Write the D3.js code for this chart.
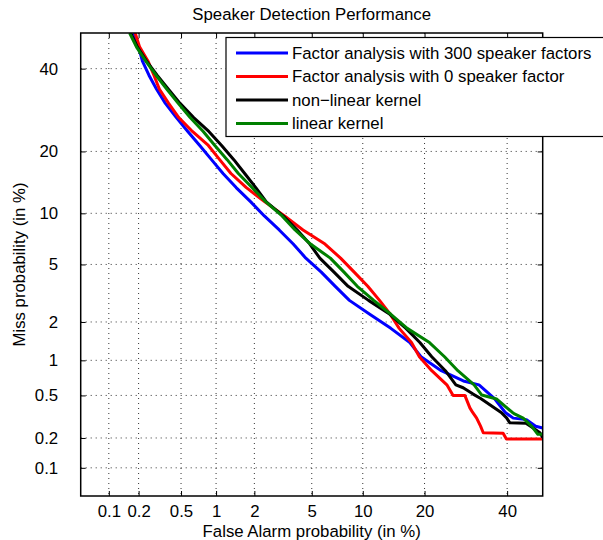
<!DOCTYPE html>
<html lang="en">
<head>
<meta charset="UTF-8">
<title>Speaker Detection Performance</title>
<script src="https://d3js.org/d3.v7.min.js"></script>
<style>
  body { margin: 0; background: #fff; }
  svg { display: block; }
  text { font-family: "Liberation Sans", Arial, Helvetica, sans-serif; fill: #000; }
</style>
</head>
<body>
<div class="main"></div>
<script>
  // tick values (in %), shared by both axes
  var tickValues = [0.1, 0.2, 0.5, 1, 2, 5, 10, 20, 40];

  var seriesNames = ["Factor analysis with 300 speaker factors", "Factor analysis with 0 speaker factor", "non\u2212linear kernel", "linear kernel"];
  var seriesColors = ["#0000ff", "#ff0000", "#000000", "#008000"];

  // false alarm / miss probabilities in %
  var fa300Pfa  = [0.18, 0.20, 0.218, 0.252, 0.298, 0.36, 0.454, 0.574, 0.729, 0.916, 1.14, 1.45, 1.88, 2.37, 3.03, 3.78, 4.58, 5.74, 6.98, 8.43, 10.9, 13.97, 17.2, 19.3, 23.5, 28.6, 32.5, 36.5, 39.5, 41.7, 45.4, 48.0, 50];
  var fa300Pmiss = [50, 46.0, 42.07, 38.2, 34.46, 30.85, 27.4, 24.2, 21.2, 18.4, 15.9, 13.6, 11.5, 9.68, 8.08, 6.68, 5.48, 4.46, 3.59, 2.87, 2.28, 1.79, 1.39, 1.07, 0.82, 0.67, 0.62, 0.47, 0.35, 0.31, 0.30, 0.26, 0.25];

  var fa0Pfa  = [0.185, 0.205, 0.247, 0.281, 0.317, 0.386, 0.477, 0.630, 0.862, 1.07, 1.32, 1.74, 2.39, 3.30, 4.39, 6.05, 7.50, 8.97, 10.64, 12.26, 13.87, 15.34, 17.5, 18.99, 21.47, 24.74, 26.17, 28.96, 29.26, 30.2, 30.9, 31.9, 32.9, 33.6, 38.9, 39.8, 50];
  var fa0Pmiss = [50, 46.0, 42.07, 38.2, 34.46, 30.85, 27.4, 24.2, 21.2, 18.4, 15.9, 13.6, 11.5, 9.68, 8.08, 6.68, 5.48, 4.46, 3.59, 2.87, 2.28, 1.79, 1.39, 1.07, 0.82, 0.62, 0.5, 0.5, 0.47, 0.386, 0.35, 0.31, 0.26, 0.225, 0.222, 0.195, 0.195];

  var nlkPfa  = [0.167, 0.195, 0.239, 0.301, 0.384, 0.490, 0.646, 0.870, 1.11, 1.39, 1.69, 2.05, 2.45, 3.22, 4.02, 4.86, 5.62, 6.86, 8.29, 10.74, 13.81, 16.50, 19.08, 21.47, 24.41, 26.81, 28.55, 31.0, 32.94, 38.37, 39.85, 40.75, 45.25, 47.2, 49.2, 50];
  var nlkPmiss = [50, 46.0, 42.07, 38.2, 34.46, 30.85, 27.4, 24.2, 21.2, 18.4, 15.9, 13.6, 11.5, 9.68, 8.08, 6.68, 5.48, 4.46, 3.59, 2.87, 2.28, 1.79, 1.39, 1.07, 0.82, 0.62, 0.585, 0.514, 0.47, 0.35, 0.312, 0.280, 0.278, 0.251, 0.225, 0.202];

  var lkPfa  = [0.163, 0.191, 0.235, 0.294, 0.372, 0.472, 0.602, 0.781, 0.977, 1.23, 1.51, 1.92, 2.43, 3.17, 3.89, 4.91, 6.52, 7.85, 9.33, 11.44, 13.98, 16.73, 21.0, 24.22, 27.28, 31.27, 33.22, 37.1, 41.46, 41.9, 44.48, 46.84, 48.62, 50];
  var lkPmiss = [50, 46.0, 42.07, 38.2, 34.46, 30.85, 27.4, 24.2, 21.2, 18.4, 15.9, 13.6, 11.5, 9.68, 8.08, 6.68, 5.48, 4.46, 3.59, 2.87, 2.28, 1.79, 1.39, 1.07, 0.82, 0.62, 0.504, 0.465, 0.35, 0.342, 0.31, 0.26, 0.217, 0.217];

  var seriesPfa = [fa300Pfa, fa0Pfa, nlkPfa, lkPfa];
  var seriesPmiss = [fa300Pmiss, fa0Pmiss, nlkPmiss, lkPmiss];

  // inverse normal cdf (Acklam)
  function probit(p) {
    var a = [-39.69683028665376, 220.9460984245205, -275.9285104469687, 138.3577518672690, -30.66479806614716, 2.506628277459239];
    var b = [-54.47609879822406, 161.5858368580409, -155.6989798598866, 66.80131188771972, -13.28068155288572];
    var c = [-0.007784894002430293, -0.3223964580411365, -2.400758277161838, -2.549732539343734, 4.374664141464968, 2.938163982698783];
    var d = [0.007784695709041462, 0.3224671290700398, 2.445134137142996, 3.754408661907416];
    var q, r;
    if (p < 0.02425) {
      q = Math.sqrt(-2 * Math.log(p));
      return (((((c[0]*q+c[1])*q+c[2])*q+c[3])*q+c[4])*q+c[5]) / ((((d[0]*q+d[1])*q+d[2])*q+d[3])*q+1);
    } else if (p <= 1 - 0.02425) {
      q = p - 0.5; r = q * q;
      return (((((a[0]*r+a[1])*r+a[2])*r+a[3])*r+a[4])*r+a[5])*q / (((((b[0]*r+b[1])*r+b[2])*r+b[3])*r+b[4])*r+1);
    }
    q = Math.sqrt(-2 * Math.log(1 - p));
    return -(((((c[0]*q+c[1])*q+c[2])*q+c[3])*q+c[4])*q+c[5]) / ((((d[0]*q+d[1])*q+d[2])*q+d[3])*q+1);
  }

  // normal deviate scale in percent, usable by d3.axis
  function probitScale(range) {
    var lin = d3.scaleLinear().domain([probit(0.0005), probit(0.5)]).range(range);
    var s = function (v) { return lin(probit(v / 100)); };
    s.domain = function () { return [0.05, 50]; };
    s.range = function () { return lin.range(); };
    s.copy = function () { return probitScale(range); };
    return s;
  }

  var width = 603, height = 540;
  var plotL = 80.7, plotR = 542.7, plotT = 33, plotB = 496;
  var fs = 16.8;

  var xScale = probitScale([plotL, plotR]);
  var yScale = probitScale([plotB, plotT]);

  var svg = d3.select(".main").append("svg")
      .attr("width", width)
      .attr("height", height);

  svg.append("defs").append("clipPath").attr("id", "plotClip")
      .append("rect").attr("x", plotL).attr("y", plotT)
      .attr("width", plotR - plotL).attr("height", plotB - plotT);

  // grid
  var grid = svg.append("g").attr("class", "grid");
  grid.selectAll(".vg").data(tickValues).join("line").attr("class", "vg")
      .attr("x1", function (d) { return xScale(d); })
      .attr("x2", function (d) { return xScale(d); })
      .attr("y1", plotT).attr("y2", plotB);
  grid.selectAll(".hg").data(tickValues).join("line").attr("class", "hg")
      .attr("y1", function (d) { return yScale(d); })
      .attr("y2", function (d) { return yScale(d); })
      .attr("x1", plotL).attr("x2", plotR);
  grid.selectAll("line")
      .style("stroke", "#333")
      .style("stroke-width", 1)
      .style("stroke-dasharray", "1,4");

  // axes with inward ticks
  function draw(axis, translate) {
    var g = svg.append("g").attr("transform", translate).call(axis);
    g.select(".domain").remove();
    g.selectAll(".tick line").style("stroke", "#000").style("stroke-width", 1);
    g.selectAll(".tick text").style("font-size", fs + "px")
        .style("font-family", "'Liberation Sans', Arial, Helvetica, sans-serif");
    return g;
  }
  draw(d3.axisBottom(xScale).tickValues(tickValues).tickFormat(function (d) { return d; })
      .tickSizeInner(-5).tickSizeOuter(0).tickPadding(9.2), "translate(0," + plotB + ")");
  draw(d3.axisTop(xScale).tickValues(tickValues).tickFormat("")
      .tickSizeInner(-5).tickSizeOuter(0), "translate(0," + plotT + ")");
  draw(d3.axisLeft(yScale).tickValues(tickValues).tickFormat(function (d) { return d; })
      .tickSizeInner(-5).tickSizeOuter(0).tickPadding(22.5), "translate(" + plotL + ",0)");
  draw(d3.axisRight(yScale).tickValues(tickValues).tickFormat("")
      .tickSizeInner(-5).tickSizeOuter(0), "translate(" + plotR + ",0)");

  // curves
  var line = d3.line()
      .x(function (d) { return xScale(d[0]); })
      .y(function (d) { return yScale(d[1]); });

  var curves = svg.append("g").attr("clip-path", "url(#plotClip)");
  for (var idx = 0; idx < seriesNames.length; idx++) {
    var pts = d3.zip(seriesPfa[idx], seriesPmiss[idx]);
    curves.append("path")
        .datum(pts)
        .attr("d", line)
        .style("fill", "none")
        .style("stroke", seriesColors[idx])
        .style("stroke-width", 3)
        .style("stroke-linejoin", "round");
  }

  // frame
  svg.append("rect")
      .attr("x", plotL).attr("y", plotT)
      .attr("width", plotR - plotL).attr("height", plotB - plotT)
      .style("fill", "none").style("stroke", "#000").style("stroke-width", 1.5);

  // titles
  svg.append("text").attr("x", (plotL + plotR) / 2).attr("y", 20)
      .attr("text-anchor", "middle").style("font-size", fs + "px")
      .text("Speaker Detection Performance");
  svg.append("text").attr("x", (plotL + plotR) / 2).attr("y", 537)
      .attr("text-anchor", "middle").style("font-size", fs + "px")
      .text("False Alarm probability (in %)");
  svg.append("text").attr("transform", "rotate(-90)")
      .attr("x", -(plotT + plotB) / 2).attr("y", 25)
      .attr("text-anchor", "middle").style("font-size", fs + "px")
      .text("Miss probability (in %)");

  // legend
  var legend = svg.append("g");
  legend.append("rect").attr("x", 226).attr("y", 37.5)
      .attr("width", 400).attr("height", 99)
      .style("fill", "#fff").style("stroke", "#000").style("stroke-width", 1.2);
  var rowY = d3.scaleLinear().domain([0, 3]).range([53, 123.5]);
  seriesNames.forEach(function (name, i) {
    legend.append("line")
        .attr("x1", 236).attr("x2", 288)
        .attr("y1", rowY(i)).attr("y2", rowY(i))
        .style("stroke", seriesColors[i]).style("stroke-width", 3);
    legend.append("text").attr("x", 292).attr("y", rowY(i) + 5.8)
        .style("font-size", fs + "px").text(name);
  });
</script>
</body>
</html>
